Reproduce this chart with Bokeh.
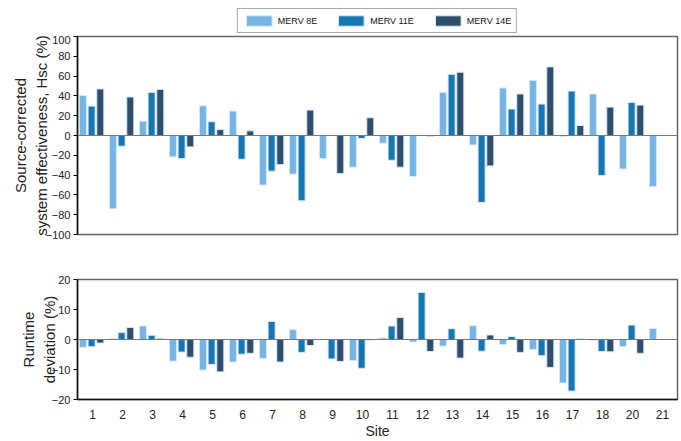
from bokeh.plotting import figure
from bokeh.models import (ColumnDataSource, FactorRange, Range1d, Legend, LegendItem,
                          Span, FixedTicker)
from bokeh.transform import dodge
from bokeh.layouts import column
from bokeh.embed import file_html
from bokeh.resources import INLINE

nan = float("nan")

sites = ["1", "2", "3", "4", "5", "6", "7", "8", "9", "10", "11", "12", "13", "14",
         "15", "16", "17", "18", "20", "21"]
series_names = ["MERV 8E", "MERV 11E", "MERV 14E"]

hsc_merv8 = [40.5, -74, 14.5, -21.6, 30, 24.7, -50, -39, -23.3, -32, -7.8, -41.5,
             43.6, -9.5, 48, 55.7, -0.7, 41.9, -33.8, -51.7]
hsc_merv11 = [29.7, -10.8, 43.6, -23.3, 13.9, -24, -36, -66, nan, -3, -25, nan,
              61.8, -67.6, 26.7, 31.8, 44.9, -40.5, 33.4, nan]
hsc_merv14 = [47, 38.9, 46.6, -11.5, 6, 4.7, -29.4, 25.7, -38.5, 17.9, -32, -0.7,
              63.9, -30.7, 41.9, 69.3, 10.1, 28.7, 30.7, nan]

rt_merv8 = [-2.6, 0.3, 4.5, -7.2, -10.2, -7.5, -6.3, 3.3, -0.1, -7.0, 0.5, -0.8,
            -2.2, 4.6, -1.7, -3.3, -14.5, -0.3, -2.3, 3.7]
rt_merv11 = [-2.4, 2.3, 1.4, -4.2, -8.3, -4.9, 6.0, -4.3, -6.5, -9.6, 4.5, 15.7,
             3.6, -3.9, 1.0, -5.4, -17.2, -4.0, 4.8, nan]
rt_merv14 = [-1.2, 4.0, 0.4, -5.9, -10.8, -4.6, -7.5, -2.0, -7.3, -0.2, 7.3, -4.0,
             -6.2, 1.5, -4.3, -9.3, 0.3, -4.1, -4.6, nan]

hsc_ticks = [-100, -80, -60, -40, -20, 0, 20, 40, 60, 80, 100]
rt_ticks = [-20, -10, 0, 10, 20]

colors = ["#75b4e4", "#1576b2", "#2d4f6c"]
offsets = [-0.32, -0.03, 0.26]
FONT = "Liberation Sans"
W = 681
BL, BR = 77, 4


def style(p, ticks, label_standoff):
    p.xgrid.visible = False
    p.ygrid.visible = False
    p.outline_line_color = "#666666"
    p.outline_line_width = 1.5
    p.yaxis.ticker = FixedTicker(ticks=ticks)
    p.yaxis.minor_tick_line_color = None
    p.yaxis.major_tick_out = 4
    p.yaxis.major_tick_in = 0
    p.yaxis.major_tick_line_width = 1.2
    p.yaxis.axis_line_width = 1.5
    p.yaxis.axis_line_color = "#111111"
    p.yaxis.major_label_text_font = FONT
    p.yaxis.major_label_text_font_size = "11px"
    p.yaxis.major_label_text_color = "#222222"
    p.yaxis.major_label_standoff = 3
    p.yaxis.axis_label_text_font = FONT
    p.yaxis.axis_label_text_font_size = "15px"
    p.yaxis.axis_label_text_font_style = "normal"
    p.yaxis.axis_label_text_color = "#222222"
    p.yaxis.axis_label_standoff = label_standoff
    p.add_layout(Span(location=0, dimension="width", line_color="#7a7a7a", line_width=1))


def bars(p, src):
    rs = []
    for key, off, col in zip(["a", "b", "c"], offsets, colors):
        rs.append(p.vbar(x=dodge("site", off, range=p.x_range), top=key, bottom=0,
                         width=0.235, source=src, fill_color=col,
                         line_color="#d9e8f5", line_width=1))
    return rs


xr = FactorRange(factors=sites, range_padding=0)
src_hsc = ColumnDataSource(dict(site=sites, a=hsc_merv8, b=hsc_merv11, c=hsc_merv14))
src_rt = ColumnDataSource(dict(site=sites, a=rt_merv8, b=rt_merv11, c=rt_merv14))

# legend strip (its bars lie outside its visible range; only the legend shows)
p0 = figure(x_range=xr, y_range=Range1d(1000, 1001), width=W, height=35,
            output_backend="svg", toolbar_location=None, x_axis_type=None, y_axis_type=None,
            min_border_left=BL, min_border_right=BR, min_border_top=0, min_border_bottom=0)
p0.outline_line_color = None
p0.xgrid.visible = False
p0.ygrid.visible = False
leg_rs = bars(p0, src_hsc)
legend = Legend(items=[LegendItem(label=n, renderers=[r]) for n, r in zip(series_names, leg_rs)],
                orientation="horizontal", location="top_center", glyph_width=32, glyph_height=13,
                label_height=13, label_standoff=3, spacing=18, padding=5, margin=8,
                border_line_color="#555555", border_line_width=1,
                label_text_font=FONT, label_text_font_size="9px", label_text_color="#111111")
p0.add_layout(legend)

p1 = figure(x_range=xr, y_range=Range1d(-100, 100),
            width=W, height=209, output_backend="svg", toolbar_location=None,
            min_border_left=BL, min_border_right=BR, min_border_top=1, min_border_bottom=10)
style(p1, hsc_ticks, -7)
p1.xaxis.visible = False
p1.yaxis.axis_label = "Source-corrected\nsystem effectiveness, Hsc (%)"
bars(p1, src_hsc)

p2 = figure(x_range=xr, y_range=Range1d(-20, 20),
            width=W, height=197, output_backend="svg", toolbar_location=None,
            min_border_left=BL, min_border_right=BR, min_border_top=35, min_border_bottom=0)
style(p2, rt_ticks, -9)
p2.yaxis.axis_label = "Runtime\ndeviation (%)"
p2.xaxis.major_tick_line_color = None
p2.xaxis.minor_tick_line_color = None
p2.xaxis.axis_line_width = 1.5
p2.xaxis.axis_line_color = "#111111"
p2.xaxis.major_label_text_font = FONT
p2.xaxis.major_label_text_font_size = "12px"
p2.xaxis.major_label_text_color = "#222222"
p2.xaxis.major_label_standoff = 4
p2.xaxis.axis_label = "Site"
p2.xaxis.axis_label_text_font = FONT
p2.xaxis.axis_label_text_font_size = "14px"
p2.xaxis.axis_label_text_font_style = "normal"
p2.xaxis.axis_label_text_color = "#222222"
p2.xaxis.axis_label_standoff = 1
bars(p2, src_rt)

layout = column(p0, p1, p2, spacing=0)
open("out.html", "w").write(file_html(layout, INLINE))
